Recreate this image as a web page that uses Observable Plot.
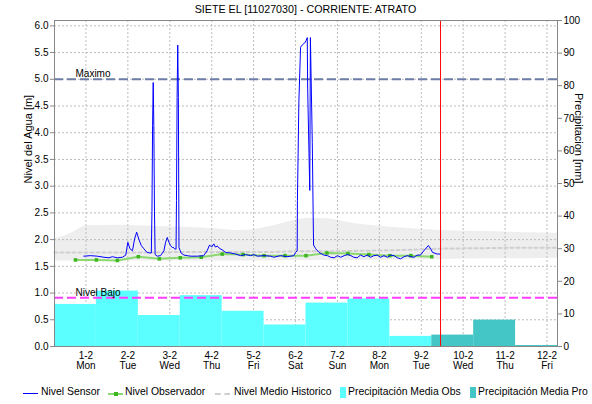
<!DOCTYPE html>
<html><head><meta charset="utf-8">
<script src="https://cdn.jsdelivr.net/npm/d3@7"></script>
<script src="https://cdn.jsdelivr.net/npm/@observablehq/plot@0.6"></script>
<style>
body{margin:0;background:#fff;font-family:"Liberation Sans",Arial,sans-serif;}
#wrap{position:relative;width:592px;height:404px;overflow:hidden;background:#fff;}
#chart{position:absolute;left:0;top:0;}
#title{position:absolute;left:54px;width:503px;top:3px;text-align:center;font-size:10.7px;color:#000;}
#legend{position:absolute;top:386px;left:0;width:592px;height:16px;font-size:10.4px;color:#000;}
#legend span{position:absolute;white-space:nowrap;}
</style></head>
<body><div id="wrap"><div id="chart"></div><div id="title">SIETE EL [11027030] - CORRIENTE: ATRATO</div><div id="legend"></div></div>
<script>
// ---- data ----
const dateLabels = ["1-2","2-2","3-2","4-2","5-2","6-2","7-2","8-2","9-2","10-2","11-2","12-2"];
const weekdays = ["Mon","Tue","Wed","Thu","Fri","Sat","Sun","Mon","Tue","Wed","Thu","Fri"];
const dayTicks = [0,1,2,3,4,5,6,7,8,9,10,11];
const levelTicks = [0,0.5,1,1.5,2,2.5,3,3.5,4,4.5,5,5.5,6];
const precipTicks = [0,10,20,30,40,50,60,70,80,90,100];

// daily precipitation (mm), day windows start at 06:00 of previous day
const obsBarStart = [-0.75,0.25,1.25,2.25,3.25,4.25,5.25,6.25,7.25];
const precipObs = [12.9,17.0,9.5,15.6,10.8,6.6,13.3,14.6,3.1];
const proBarStart = [8.25,9.25,10.25];
const precipPro = [3.5,8.1,0.3];

const sensorDays = [-0.05,0.11,0.27,0.43,0.55,0.63,0.75,0.87,0.95,1.00,1.05,1.11,1.16,1.21,1.26,1.32,1.38,1.46,1.53,
 1.56,1.575,1.59,1.605,1.62,1.635,1.65,
 1.70,1.78,1.86,1.90,1.94,1.98,2.02,2.06,2.08,2.11,2.15,
 2.16,2.175,2.19,2.205,2.22,
 2.27,2.34,2.42,2.50,2.66,2.81,2.89,2.95,3.00,3.05,3.09,3.13,3.20,3.25,3.33,3.45,3.57,3.69,3.81,3.93,4.01,4.09,4.25,4.41,4.48,4.64,4.80,4.96,5.00,
 5.04,5.045,5.08,5.12,5.17,5.22,5.25,5.28,5.29,5.34,5.355,5.40,5.43,
 5.48,5.56,5.68,5.76,5.84,5.92,6.00,6.08,6.16,6.24,6.32,6.39,6.47,6.55,6.63,6.71,6.79,6.87,6.95,7.03,7.11,7.19,7.27,7.35,7.43,7.51,7.59,7.67,7.75,7.83,7.90,7.98,8.06,8.17,8.23,8.27,8.38,8.45];
const sensorLevels = [1.69,1.70,1.69,1.67,1.66,1.68,1.66,1.67,1.71,1.95,1.83,1.79,2.01,2.14,2.01,1.89,1.83,1.76,1.75,
 1.75,2.53,4.13,4.94,4.13,2.53,1.72,
 1.69,1.70,1.79,1.95,2.04,1.95,1.89,1.85,1.86,1.83,1.82,
 2.73,4.66,5.64,4.66,1.85,
 1.75,1.71,1.70,1.69,1.69,1.70,1.79,1.90,1.86,1.92,1.86,1.88,1.83,1.81,1.76,1.75,1.73,1.70,1.72,1.70,1.72,1.69,1.70,1.69,1.67,1.70,1.68,1.70,1.76,
 1.79,2.73,4.57,5.60,5.65,5.68,5.72,5.78,4.82,2.92,5.78,3.82,1.90,
 1.83,1.76,1.71,1.70,1.67,1.66,1.70,1.67,1.70,1.72,1.70,1.67,1.66,1.71,1.68,1.71,1.67,1.70,1.71,1.67,1.70,1.67,1.71,1.70,1.66,1.64,1.68,1.70,1.68,1.67,1.71,1.71,1.79,1.89,1.82,1.76,1.73,1.73];

const obsDays = [-0.25,0.25,0.75,1.25,1.75,2.25,2.75,3.25,3.75,4.25,4.75,5.25,5.75,6.25,6.75,7.25,7.75,8.25];
const obsLevels = [1.62,1.62,1.61,1.68,1.64,1.66,1.67,1.73,1.72,1.70,1.70,1.70,1.75,1.74,1.72,1.70,1.70,1.68];

const histDays = [-0.75,-0.37,0.03,0.75,1.54,2.33,3.13,3.69,4.48,4.96,5.36,5.76,6.47,7.27,8.46,9.5,10.5,11.25];
const histHigh = [2.01,2.11,2.26,2.27,2.25,2.23,2.20,2.17,2.26,2.36,2.40,2.39,2.29,2.23,2.17,2.15,2.13,2.12];
const histLow  = [1.60,1.60,1.60,1.60,1.60,1.60,1.60,1.60,1.60,1.61,1.61,1.61,1.61,1.62,1.63,1.64,1.64,1.65];
const histMean = [1.76,1.76,1.76,1.76,1.76,1.77,1.77,1.77,1.77,1.78,1.78,1.78,1.79,1.80,1.83,1.84,1.85,1.85];

const maxLevel = 5.0;
const lowLevel = 0.91;
const nowDay = 8.46;

// ---- build ----
const K = 6.1 / 100; // mm -> shared y scale
const sensor = sensorDays.map((d, i) => ({d, v: sensorLevels[i]}));
const obs = obsDays.map((d, i) => ({d, v: obsLevels[i]}));
const hist = histDays.map((d, i) => ({d, lo: histLow[i], hi: histHigh[i], m: histMean[i]}));
const barsObs = obsBarStart.map((s, i) => ({x1: s, x2: s + 1, p: precipObs[i]}));
const barsPro = proBarStart.map((s, i) => ({x1: s, x2: s + 1, p: precipPro[i]}));

const font = "Liberation Sans, Arial, sans-serif";
const chart = Plot.plot({
  width: 592, height: 382,
  marginTop: 20, marginBottom: 36, marginLeft: 54, marginRight: 35,
  style: {fontFamily: font, fontSize: "10px", background: "transparent", color: "#000"},
  x: {domain: [-0.75, 11.25]},
  y: {domain: [0, 6.1]},
  marks: [
    Plot.areaY(hist, {x: "d", y1: "lo", y2: "hi", fill: "#EEEEEE", curve: "monotone-x"}),
    Plot.gridY(levelTicks, {stroke: "#BDBDBD", strokeOpacity: 1, strokeDasharray: "2,2"}),
    Plot.gridX(dayTicks, {stroke: "#BDBDBD", strokeOpacity: 1, strokeDasharray: "2,2"}),
    Plot.rectY(barsObs, {x1: "x1", x2: "x2", y: d => d.p * K, fill: "#5CFFFF"}),
    Plot.rectY(barsPro, {x1: "x1", x2: "x2", y: d => d.p * K, fill: "#45C6C6"}),
    Plot.line(hist, {x: "d", y: "m", stroke: "#CFCFCF", strokeWidth: 2, strokeDasharray: "3,3", curve: "monotone-x"}),
    Plot.ruleY([maxLevel], {stroke: "#6E7DA8", strokeWidth: 2, strokeDasharray: "9,4"}),
    Plot.ruleY([lowLevel], {stroke: "#FF3CFF", strokeWidth: 2, strokeDasharray: "9,4"}),
    Plot.text([maxLevel], {y: d => d, frameAnchor: "left", dx: 21, dy: -5, text: () => "Maximo", textAnchor: "start", fontSize: 10, fill: "#000"}),
    Plot.text([lowLevel], {y: d => d, frameAnchor: "left", dx: 21, dy: -5, text: () => "Nivel Bajo", textAnchor: "start", fontSize: 10, fill: "#000"}),
    Plot.line(obs, {x: "d", y: "v", stroke: "#8CD870", strokeWidth: 2}),
    Plot.dot(obs, {x: "d", y: "v", fill: "#3DB520", r: 2, symbol: "square"}),
    Plot.line(sensor, {x: "d", y: "v", stroke: "#0000FF", strokeWidth: 1}),
    Plot.ruleX([nowDay], {stroke: "#FF0000", strokeWidth: 1}),
    Plot.frame({stroke: "#888"}),
    Plot.axisY(levelTicks, {anchor: "left", tickFormat: d3.format(".1f"), tickSize: 4, tickPadding: 2, stroke: "#888", fill: "#000", label: null}),
    Plot.axisY(precipTicks.map(v => v * K), {anchor: "right", tickFormat: v => String(Math.round(v / K)), tickSize: 4, tickPadding: 2, stroke: "#888", fill: "#000", label: null}),
    Plot.axisX(dayTicks, {anchor: "bottom", tickSize: 0, tickPadding: 5, tickFormat: i => dateLabels[i] + "\n" + weekdays[i], fill: "#000", label: null}),
    Plot.text(["Nivel del Agua [m]"], {frameAnchor: "left", dx: -26, rotate: -90, fontSize: 11, fill: "#000"}),
    Plot.text(["Precipitacion [mm]"], {frameAnchor: "right", dx: 21, rotate: 90, fontSize: 11, fill: "#000"})
  ]
});
document.getElementById("chart").appendChild(chart);

// ---- legend ----
const lg = document.getElementById("legend");
const items = [
  '<span style="left:23px;top:7px;width:15px;height:1px;background:#0000FF"></span>',
  '<span style="left:41px;top:0px">Nivel Sensor</span>',
  '<span style="left:108px;top:7px;width:15px;height:2px;background:#8CD870"></span><span style="left:114px;top:6px;width:4px;height:4px;background:#3DB520"></span>',
  '<span style="left:125px;top:0px">Nivel Observador</span>',
  '<span style="left:215px;top:7px;width:15px;height:0;border-top:2px dashed #CFCFCF"></span>',
  '<span style="left:234px;top:0px">Nivel Medio Historico</span>',
  '<span style="left:340px;top:1px;width:6px;height:11px;background:#5CFFFF"></span>',
  '<span style="left:348px;top:0px">Precipitación Media Obs</span>',
  '<span style="left:470px;top:1px;width:6px;height:11px;background:#45C6C6"></span>',
  '<span style="left:478px;top:0px">Precipitación Media Pro</span>'
];
lg.innerHTML = items.join("");
</script>
</body></html>
